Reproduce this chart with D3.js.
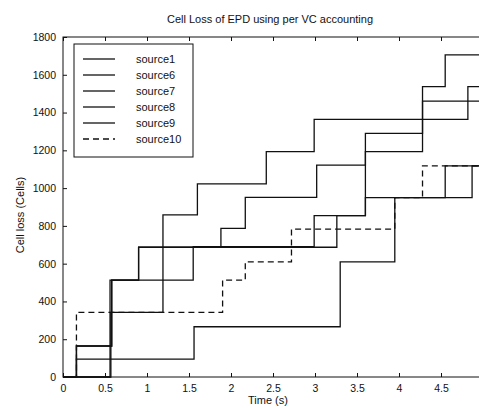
<!DOCTYPE html>
<html><head><meta charset="utf-8">
<script src="https://cdn.jsdelivr.net/npm/d3@7"></script>
<style>
html,body{margin:0;padding:0;background:#fff;}
svg{display:block;}
text{font-family:"Liberation Sans",Arial,sans-serif;fill:#111;}
</style></head>
<body>
<script>
// ---- data (time in s, cumulative cell loss) ----
const seriesNames = ["source1","source6","source7","source8","source9","source10"];
const source1  = [[0,0],[0.16,164],[0.58,513],[0.9,687],[1.88,787],[2.17,951],[3.02,1122],[3.6,1290],[4.28,1537],[4.55,1705],[5,1705]];
const source6  = [[0,0],[0.57,342],[1.19,858],[1.6,1022],[2.42,1193],[2.99,1364],[4.82,1537],[5,1537]];
const source7  = [[0,0],[0.56,513],[1.55,690],[2.99,854],[3.6,1193],[4.28,1461],[5,1461]];
const source8  = [[0,0],[0.16,164],[0.58,513],[0.9,687],[3.26,854],[3.6,950],[4.87,1118],[5,1118]];
const source9  = [[0,0],[0.16,95],[1.56,266],[3.3,610],[3.95,950],[4.55,1118],[5,1118]];
const source10 = [[0,0],[0.16,342],[1.9,513],[2.17,610],[2.72,783],[3.95,950],[4.28,1118],[5,1118]];
const seriesData = [source1, source6, source7, source8, source9, source10];
const dashed = [false,false,false,false,false,true];
const xTicks = [0,0.5,1,1.5,2,2.5,3,3.5,4,4.5,5];
const xTickLabels = ["0","0.5","1","1.5","2","2.5","3","3.5","4","4.5",""];
const yTicks = [0,200,400,600,800,1000,1200,1400,1600,1800];
const titleText = "Cell Loss of  EPD using per VC accounting";
const xLabel = "Time (s)";
const yLabel = "Cell loss (Cells)";

const W = 479, H = 408;
const m = {left:63, top:37, right:-4, bottom:31};
const svg = d3.select("body").append("svg").attr("width",W).attr("height",H);

const x = d3.scaleLinear().domain([0,5]).range([m.left, W - m.right]);
const y = d3.scaleLinear().domain([0,1800]).range([H - m.bottom, m.top]);

// frame
svg.append("rect").attr("x",x(0)).attr("y",y(1800))
  .attr("width",x(5)-x(0)).attr("height",y(0)-y(1800))
  .attr("fill","none").attr("stroke","#111").attr("stroke-width",1);

// axes with inward ticks
const gx = svg.append("g").attr("transform",`translate(0,${y(0)})`)
  .call(d3.axisBottom(x).tickValues(xTicks).tickSize(-4).tickPadding(8)
    .tickFormat((d,i)=>xTickLabels[i]));
const gxTop = svg.append("g").attr("transform",`translate(0,${y(1800)})`)
  .call(d3.axisTop(x).tickValues(xTicks).tickSize(-4).tickFormat(""));
const gy = svg.append("g").attr("transform",`translate(${x(0)},0)`)
  .call(d3.axisLeft(y).tickValues(yTicks).tickSize(-4).tickPadding(7).tickFormat(d3.format("d")));
[gx,gxTop,gy].forEach(g=>{
  g.select(".domain").remove();
  g.selectAll(".tick line").attr("stroke","#111");
  g.selectAll("text").attr("font-size","10.5px").attr("font-family","Liberation Sans, Arial, sans-serif").attr("fill","#111");
});

// series
const line = d3.line().x(d=>x(d[0])).y(d=>y(d[1])).curve(d3.curveStepAfter);
seriesData.forEach((s,i)=>{
  svg.append("path").datum(s).attr("d",line)
    .attr("fill","none").attr("stroke","#111").attr("stroke-width",1.3)
    .attr("stroke-dasharray", dashed[i] ? "6,4" : null);
});

// legend
const lg = svg.append("g");
lg.append("rect").attr("x",74).attr("y",44).attr("width",119).attr("height",113)
  .attr("fill","#fff").attr("stroke","#111").attr("stroke-width",1);
seriesNames.forEach((n,i)=>{
  const yy = 59 + i*16;
  lg.append("line").attr("x1",83).attr("x2",115).attr("y1",yy).attr("y2",yy)
    .attr("stroke","#111").attr("stroke-width",1.3)
    .attr("stroke-dasharray", dashed[i] ? "6,4" : null);
  lg.append("text").attr("x",136).attr("y",yy+4).attr("font-size","11px").text(n);
});

// titles
svg.append("text").attr("x",270).attr("y",23).attr("text-anchor","middle").attr("font-size","11px").text(titleText);
svg.append("text").attr("x",268).attr("y",404).attr("text-anchor","middle").attr("font-size","11px").text(xLabel);
svg.append("text").attr("transform","translate(24,215) rotate(-90)").attr("text-anchor","middle").attr("font-size","11px").text(yLabel);
</script>
</body></html>
